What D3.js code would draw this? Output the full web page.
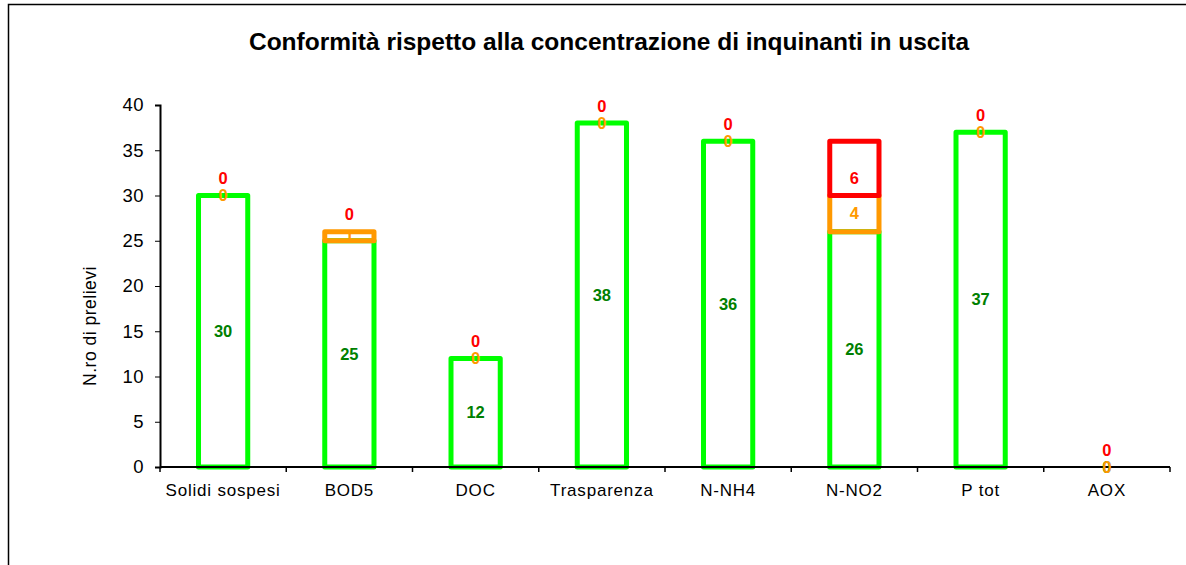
<!DOCTYPE html>
<html>
<head>
<meta charset="utf-8">
<script src="https://cdn.jsdelivr.net/npm/d3@7"></script>
<style>
  body { margin: 0; background: #fff; }
  text { font-family: "Liberation Sans", Arial, sans-serif; }
</style>
</head>
<body>
<div id="chart"></div>
<script>
/*Data*/
var categories = ["Solidi sospesi", "BOD5", "DOC", "Trasparenza", "N-NH4", "N-NO2", "P tot", "AOX"];
var conformi = [30, 25, 12, 38, 36, 26, 37, 0];
var limite = [0, 1, 0, 0, 0, 4, 0, 0];
var nonConformi = [0, 0, 0, 0, 0, 6, 0, 0];
var yTicks = [0, 5, 10, 15, 20, 25, 30, 35, 40];

/*SVG Size*/
var width = 1186;
var height = 565;

var svg = d3.select("#chart").append("svg")
            .attr("width", width)
            .attr("height", height);

/*Outer frame*/
svg.append("path")
   .attr("d", "M8.5,570 V4.5 H1190")
   .attr("fill", "none")
   .attr("stroke", "#000")
   .attr("stroke-width", 1.5);

svg.append("text")
   .attr("x", 609)
   .attr("y", 50)
   .attr("text-anchor", "middle")
   .attr("font-size", 24.5)
   .attr("font-weight", "bold")
   .text("Conformità rispetto alla concentrazione di inquinanti in uscita");

var x = d3.scaleBand().domain(categories).range([160, 1170]);
var y = d3.scaleLinear().domain([0, 40]).range([467, 105]);
var barW = x.bandwidth() * 0.39;

/*Stacked segments*/
var series = [
  { values: conformi, color: "#00ff00", label: "#008000", pos: "center" },
  { values: limite, color: "#ff9900", label: "#ff9900", pos: "center" },
  { values: nonConformi, color: "#ff0000", label: "#ff0000", pos: "base" }
];

var segs = [];
categories.forEach(function(c, i) {
  var base = 0;
  series.forEach(function(s) {
    segs.push({ cat: c, y0: base, y1: base + s.values[i], v: s.values[i], s: s });
    base += s.values[i];
  });
});

var bars = svg.append("g");
bars.selectAll("rect")
    .data(segs.filter(function(d) { return d.v > 0; }))
    .enter().append("rect")
    .attr("x", function(d) { return x(d.cat) + (x.bandwidth() - barW) / 2; })
    .attr("y", function(d) { return y(d.y1); })
    .attr("width", barW)
    .attr("height", function(d) { return y(d.y0) - y(d.y1); })
    .attr("fill", "none")
    .attr("stroke", function(d) { return d.s.color; })
    .attr("stroke-width", 5)
    .attr("stroke-linejoin", "round");

/*Axes*/
var yAxis = svg.append("g")
   .attr("transform", "translate(160,0)")
   .call(d3.axisLeft(y).tickValues(yTicks).tickSize(5).tickPadding(11));
yAxis.attr("font-size", 18.5).attr("font-family", null);
yAxis.select(".domain").attr("stroke-width", 2);
yAxis.selectAll("text").attr("fill", "#000").attr("letter-spacing", 0.5);

var xAxis = svg.append("g")
   .attr("transform", "translate(0,467)")
   .call(d3.axisBottom(x).tickSize(0).tickPadding(10));
xAxis.attr("font-size", 17).attr("font-family", null);
xAxis.select(".domain").attr("stroke-width", 2).attr("d", "M160,0H1170");
xAxis.selectAll("text").attr("fill", "#000").attr("letter-spacing", 0.8).attr("dy", "1.1em");
xAxis.selectAll(".sep")
   .data(d3.range(categories.length + 1))
   .enter().append("line")
   .attr("x1", function(i) { return 160 + i * x.bandwidth(); })
   .attr("x2", function(i) { return 160 + i * x.bandwidth(); })
   .attr("y1", 0).attr("y2", 5)
   .attr("stroke", "#000").attr("stroke-width", 1.5);

svg.append("text")
   .attr("transform", "translate(96,326) rotate(-90)")
   .attr("text-anchor", "middle")
   .attr("font-size", 17.5)
   .attr("letter-spacing", 0.5)
   .text("N.ro di prelievi");

/*Labels*/
svg.append("g").selectAll("text")
   .data(segs)
   .enter().append("text")
   .attr("x", function(d) { return x(d.cat) + x.bandwidth() / 2; })
   .attr("y", function(d) {
     if (d.s.pos === "base") return y(d.y0) - 17;
     return (y(d.y0) + y(d.y1)) / 2;
   })
   .attr("dy", "0.35em")
   .attr("text-anchor", "middle")
   .attr("font-size", 16.5)
   .attr("font-weight", "bold")
   .attr("fill", function(d) { return d.s.label; })
   .text(function(d) { return d.v; });
</script>
</body>
</html>
